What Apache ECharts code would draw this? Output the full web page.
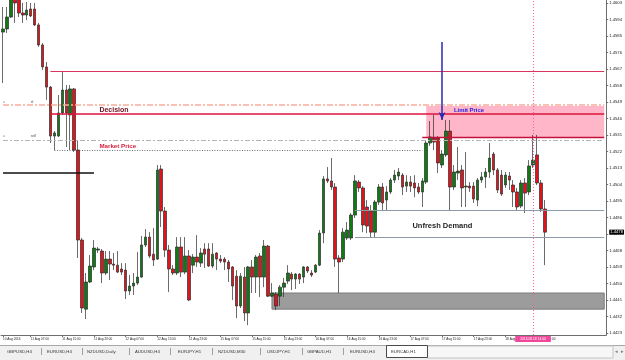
<!DOCTYPE html>
<html>
<head>
<meta charset="utf-8">
<title>EURCAD,H1</title>
<script src="https://cdn.jsdelivr.net/npm/echarts@6/dist/echarts.min.js"></script>
<style>
html, body { margin: 0; padding: 0; background: #fff; }
#chart { width: 625px; height: 360px; }
</style>
</head>
<body>
<div id="chart"></div>
<script>
// EURCAD H1, one value per bar, 11 Aug 00:00 .. 18 Aug 17:00
var openP = [
    1.45871, 1.45888, 1.45953, 1.46057, 1.46062, 1.45975, 1.45964, 1.45997, 1.45997, 1.45910,
    1.45801, 1.45681, 1.45571, 1.45304, 1.45304, 1.45430, 1.45555, 1.45419, 1.45561, 1.45228,
    1.44737, 1.44360, 1.44508, 1.44590, 1.44682, 1.44677, 1.44557, 1.44633, 1.44606, 1.44600,
    1.44579, 1.44573, 1.44459, 1.44486, 1.44502, 1.44535, 1.44710, 1.44753, 1.44660, 1.44633,
    1.45124, 1.44895, 1.44682, 1.44579, 1.44557, 1.44699, 1.44562, 1.44650, 1.44600, 1.44644,
    1.44611, 1.44688, 1.44688, 1.44595, 1.44666, 1.44633, 1.44633, 1.44617, 1.44590, 1.44540,
    1.44377, 1.44535, 1.44339, 1.44590, 1.44535, 1.44650, 1.44535, 1.44704, 1.44431, 1.44442,
    1.44431, 1.44480, 1.44513, 1.44551, 1.44524, 1.44551, 1.44535, 1.44590, 1.44557, 1.44562,
    1.44600, 1.44775, 1.45070, 1.45059, 1.45026, 1.44639, 1.44633, 1.44748, 1.44748, 1.44873,
    1.45053, 1.45021, 1.44917, 1.44895, 1.44780, 1.44944, 1.45026, 1.44955, 1.44999, 1.45064,
    1.45086, 1.45091, 1.45031, 1.45053, 1.45048, 1.45026, 1.44999, 1.45053, 1.45266, 1.45293,
    1.45293, 1.45146, 1.45201, 1.45331, 1.45026, 1.45102, 1.45119, 1.45026, 1.45031, 1.45031,
    1.44955, 1.45064, 1.45081, 1.45108, 1.45206, 1.45119, 1.45091, 1.45037, 1.45086, 1.45037,
    1.44999, 1.44922, 1.45048, 1.44999, 1.45146, 1.45201, 1.45048, 1.44906
];
var closeP = [
    1.45888, 1.45953, 1.46073, 1.46030, 1.45975, 1.45964, 1.45991, 1.45959, 1.45910, 1.45801,
    1.45681, 1.45571, 1.45304, 1.45321, 1.45430, 1.45555, 1.45430, 1.45561, 1.45228, 1.44737,
    1.44366, 1.44508, 1.44595, 1.44693, 1.44688, 1.44557, 1.44633, 1.44606, 1.44600, 1.44562,
    1.44562, 1.44459, 1.44486, 1.44502, 1.44535, 1.44710, 1.44753, 1.44650, 1.44628, 1.45119,
    1.44895, 1.44682, 1.44579, 1.44557, 1.44699, 1.44562, 1.44650, 1.44410, 1.44644, 1.44617,
    1.44666, 1.44660, 1.44595, 1.44660, 1.44633, 1.44622, 1.44617, 1.44579, 1.44486, 1.44377,
    1.44540, 1.44339, 1.44590, 1.44535, 1.44644, 1.44535, 1.44704, 1.44431, 1.44448, 1.44377,
    1.44480, 1.44502, 1.44557, 1.44524, 1.44551, 1.44524, 1.44590, 1.44568, 1.44546, 1.44600,
    1.44775, 1.45070, 1.45059, 1.45026, 1.44633, 1.44617, 1.44780, 1.44791, 1.44873, 1.45059,
    1.45021, 1.44819, 1.44813, 1.44780, 1.44944, 1.45026, 1.44939, 1.44999, 1.45064, 1.45091,
    1.45108, 1.45026, 1.45053, 1.45031, 1.45021, 1.44999, 1.45059, 1.45266, 1.45299, 1.45271,
    1.45157, 1.45206, 1.45331, 1.45026, 1.45108, 1.45113, 1.45021, 1.45031, 1.45021, 1.44961,
    1.45064, 1.45081, 1.45108, 1.45184, 1.45119, 1.45010, 1.44988, 1.45091, 1.45064, 1.44999,
    1.44917, 1.45048, 1.44993, 1.45141, 1.45173, 1.45048, 1.44906, 1.44780
];
var lowP = [
    1.45593, 1.45866, 1.45948, 1.45921, 1.45953, 1.45921, 1.45937, 1.45953, 1.45904, 1.45790,
    1.45664, 1.45501, 1.45266, 1.45228, 1.45299, 1.45419, 1.45244, 1.45228, 1.45217, 1.44639,
    1.44339, 1.44306, 1.44502, 1.44573, 1.44666, 1.44502, 1.44546, 1.44519, 1.44573, 1.44557,
    1.44546, 1.44415, 1.44437, 1.44437, 1.44491, 1.44530, 1.44699, 1.44639, 1.44595, 1.44628,
    1.44808, 1.44644, 1.44453, 1.44546, 1.44546, 1.44535, 1.44551, 1.44404, 1.44557, 1.44590,
    1.44590, 1.44584, 1.44590, 1.44584, 1.44573, 1.44611, 1.44573, 1.44508, 1.44410, 1.44311,
    1.44366, 1.44295, 1.44273, 1.44448, 1.44448, 1.44426, 1.44480, 1.44426, 1.44426, 1.44355,
    1.44377, 1.44426, 1.44497, 1.44464, 1.44470, 1.44497, 1.44502, 1.44557, 1.44535, 1.44557,
    1.44595, 1.44720, 1.45048, 1.45010, 1.44590, 1.44448, 1.44617, 1.44737, 1.44737, 1.44857,
    1.44999, 1.44780, 1.44775, 1.44748, 1.44753, 1.44928, 1.44900, 1.44900, 1.44988, 1.45048,
    1.45064, 1.44982, 1.44999, 1.44999, 1.44971, 1.44988, 1.44917, 1.45042, 1.45250, 1.45228,
    1.45102, 1.45130, 1.45190, 1.44900, 1.45010, 1.45064, 1.44917, 1.44917, 1.44999, 1.44939,
    1.44922, 1.45048, 1.45021, 1.45075, 1.45091, 1.44993, 1.44977, 1.45021, 1.45010, 1.44917,
    1.44900, 1.44911, 1.44884, 1.44982, 1.45130, 1.45037, 1.44890, 1.44600
];
var highP = [
    1.46008, 1.46008, 1.46101, 1.46090, 1.46079, 1.46030, 1.46035, 1.46030, 1.46030, 1.45921,
    1.45811, 1.45708, 1.45577, 1.45331, 1.45528, 1.45653, 1.45582, 1.45582, 1.45566, 1.45282,
    1.44748, 1.44557, 1.44655, 1.44737, 1.44699, 1.44688, 1.44677, 1.44677, 1.44666, 1.44677,
    1.44611, 1.44611, 1.44546, 1.44557, 1.44671, 1.44759, 1.44797, 1.44780, 1.44802, 1.45146,
    1.45146, 1.44917, 1.44710, 1.44600, 1.44753, 1.44753, 1.44753, 1.44682, 1.44660, 1.44764,
    1.44693, 1.44720, 1.44720, 1.44720, 1.44671, 1.44655, 1.44644, 1.44628, 1.44595, 1.44573,
    1.44557, 1.44590, 1.44595, 1.44628, 1.44655, 1.44666, 1.44737, 1.44710, 1.44502, 1.44453,
    1.44491, 1.44530, 1.44600, 1.44562, 1.44557, 1.44557, 1.44595, 1.44595, 1.44573, 1.44606,
    1.44791, 1.45086, 1.45135, 1.45184, 1.45048, 1.44655, 1.44802, 1.44835, 1.44884, 1.45091,
    1.45064, 1.45031, 1.44955, 1.44928, 1.44955, 1.45042, 1.45048, 1.45031, 1.45075, 1.45119,
    1.45130, 1.45102, 1.45091, 1.45086, 1.45091, 1.45048, 1.45075, 1.45282, 1.45386, 1.45419,
    1.45304, 1.45228, 1.45391, 1.45391, 1.45146, 1.45244, 1.45146, 1.45217, 1.45053, 1.45053,
    1.45075, 1.45108, 1.45130, 1.45266, 1.45217, 1.45130, 1.45119, 1.45108, 1.45108, 1.45064,
    1.45021, 1.45064, 1.45075, 1.45173, 1.45310, 1.45310, 1.45064, 1.44955
];

// price scale tick labels on the right
var yTicks = ['1.4423', '1.4432', '1.4441', '1.4450', '1.4459', '1.4468', '1.4477',
    '1.4486', '1.4495', '1.4504', '1.4513', '1.4522', '1.4531', '1.4540', '1.4549',
    '1.4558', '1.4567', '1.4576', '1.4585', '1.4594', '1.4603'];

// time scale: bar index of each label, and its text
var tickIdx = [0, 7, 15, 23, 31, 39, 47, 55, 63, 71, 79, 87, 95, 103, 111, 119, 127, 135];
var tickLabels = ['10 Aug 2016', '11 Aug 07:00', '11 Aug 15:00', '11 Aug 23:00', '12 Aug 07:00',
    '12 Aug 15:00', '12 Aug 23:00', '15 Aug 07:00', '15 Aug 15:00', '15 Aug 23:00', '16 Aug 07:00',
    '16 Aug 15:00', '16 Aug 23:00', '17 Aug 07:00', '17 Aug 15:00', '17 Aug 23:00', '18 Aug 07:00',
    '18 Aug 15:00'];

// drawn levels
var decisionTop = 1.45659;
var pendingLevel = 1.45473;
var decisionLevel = 1.45424;
var limitHigh = 1.45468;
var limitLow = 1.45299;
var sellLevel = 1.45282;
var marketLevel = 1.45228;
var blackLevel = 1.45102;
var unfreshTop = 1.44900;
var unfreshBottom = 1.44753;
var demandTop = 1.44448;
var demandBottom = 1.44360;
var arrowFrom = 1.45817;
var arrowTo = 1.45391;
var lastPrice = 1.4478;
var cursorBar = 134;

var tabs = ['GBPUSD,H4', 'EURUSD,H4', 'NZDUSD,Daily', 'AUDUSD,H4', 'EURJPY,H1',
    'NZDUSD,M30', 'USDJPY,H1', 'GBPAUD,H1', 'EURUSD,H4', 'EURCAD,H1'];
var tabX = [7, 47, 87, 135, 178, 218, 267, 307, 350, 391];
var sepX = [41, 82, 129, 170, 212, 260, 302, 343];

var yMin = 1.44219, yMax = 1.46046;
var barSlots = 153;

var cats = [];
for (var i = 0; i < barSlots; i++) cats.push(String(i));
var candles = openP.map(function (o, k) {
    return [o, closeP[k], lowP[k], highP[k]];
});
var last = barSlots - 1;
var font = 'Liberation Sans';

// a horizontal segment between two bars at one price
function hLine(from, to, price, style, label) {
    var start = { coord: [from, price], lineStyle: style };
    if (label) start.label = label;
    return [start, { coord: [to, price], lineStyle: style }];
}

var graphics = [
    { type: 'rect', shape: { x: 0, y: 345, width: 625, height: 15 }, style: { fill: '#f0f0f0' }, z: 50 },
    { type: 'line', shape: { x1: 0, y1: 345.5, x2: 625, y2: 345.5 }, style: { stroke: '#a8a8a8', lineWidth: 1 }, z: 51 },
    { type: 'rect', shape: { x: 427, y: 346, width: 186, height: 12 }, style: { fill: '#f7f7f7', stroke: '#c4c4c4', lineWidth: 1 }, z: 51 },
    { type: 'rect', shape: { x: 386.5, y: 345.5, width: 41, height: 12 }, style: { fill: '#fff', stroke: '#4a4a4a', lineWidth: 1 }, z: 52 },
    { type: 'text', x: 615, y: 352, style: { text: '\u25C2', fill: '#777', font: '5px ' + font, verticalAlign: 'middle' }, z: 53 },
    { type: 'text', x: 621, y: 352, style: { text: '\u25B8', fill: '#777', font: '5px ' + font, verticalAlign: 'middle' }, z: 53 }
];
tabs.forEach(function (t, k) {
    graphics.push({ type: 'text', x: tabX[k], y: 351.5, z: 53,
        style: { text: t, fill: '#333', font: '4.3px ' + font, verticalAlign: 'middle' } });
});
sepX.forEach(function (x) {
    graphics.push({ type: 'line', z: 53, shape: { x1: x + 0.5, y1: 348, x2: x + 0.5, y2: 355 },
        style: { stroke: '#8a8a8a', lineWidth: 0.8 } });
});

var option = {
    animation: false,
    backgroundColor: '#ffffff',
    textStyle: { fontFamily: font },
    grid: { left: 0, right: 17, top: 0, bottom: 25 },
    xAxis: {
        type: 'category',
        data: cats,
        boundaryGap: true,
        axisLine: { lineStyle: { color: '#6e6e6e', width: 1 } },
        axisTick: {
            show: true, alignWithLabel: true, length: 2,
            interval: function (i) { return tickIdx.indexOf(i) >= 0; },
            lineStyle: { color: '#6e6e6e' }
        },
        axisLabel: {
            interval: function (i) { return tickIdx.indexOf(i) >= 0; },
            formatter: function (v, i) {
                var k = tickIdx.indexOf(i);
                return k >= 0 ? tickLabels[k] : '';
            },
            align: 'left', margin: 3, fontSize: 3.1, color: '#222'
        },
        splitLine: { show: false }
    },
    yAxis: {
        type: 'value',
        position: 'right',
        min: yMin,
        max: yMax,
        splitLine: { show: false },
        axisLine: { show: true, lineStyle: { color: '#6e6e6e', width: 1 } },
        axisTick: { show: true, length: 2, customValues: yTicks.map(Number), lineStyle: { color: '#6e6e6e' } },
        axisLabel: {
            customValues: yTicks.map(Number),
            formatter: function (v) { return v.toFixed(4); },
            fontSize: 4.2, color: '#222', margin: 3
        }
    },
    series: [{
        // zones behind the candles
        type: 'line',
        data: [],
        z: 1,
        silent: true,
        markArea: {
            silent: true,
            data: [
                [{ coord: [107, limitHigh], itemStyle: { color: '#ffb6c8' } }, { coord: [last, limitLow] }],
                [{ coord: [68, demandTop], itemStyle: { color: '#9c9c9c', borderColor: '#7c7c7c', borderWidth: 1 } },
                 { coord: [last, demandBottom] }]
            ]
        }
    }, {
        name: 'EURCAD,H1',
        type: 'candlestick',
        data: candles,
        z: 2,
        barWidth: 3,
        silent: true,
        itemStyle: {
            color: '#0e7a12',
            color0: '#e4131b',
            borderColor: '#2c2c2c',
            borderColor0: '#2c2c2c',
            borderWidth: 0.7
        }
    }, {
        // drawn lines and texts
        type: 'line',
        data: [],
        z: 3,
        silent: true,
        markLine: {
            silent: true,
            symbol: ['none', 'none'],
            label: { show: false },
            lineStyle: { color: '#d8345e', type: 'solid' },
            data: [
                hLine(0, last, pendingLevel, { color: '#f6ad9e', width: 1.5, type: [6, 2, 2, 2] }),
                hLine(12, last, decisionLevel, { color: '#dc143c', width: 1.6, type: 'solid' }),
                hLine(0, last, sellLevel, { color: '#b4b4b4', width: 1, type: [5, 2, 2, 2] }),
                hLine(13, 106, marketLevel, { color: '#444', width: 0.8, type: [1, 1.5] }),
                hLine(106, last, limitLow, { color: '#c4103c', width: 1.4, type: 'solid' }),
                hLine(0, 23, blackLevel, { color: '#111', width: 1.5, type: 'solid' }),
                hLine(89, last, unfreshTop, { color: '#8e9aa6', width: 1, type: 'solid' }),
                hLine(89, last, unfreshBottom, { color: '#8e9aa6', width: 1, type: 'solid' }),
                hLine(12, last, decisionTop, { color: '#d8345e', width: 1.2, type: 'solid' }),
                [{
                    coord: [cursorBar, yMin],
                    lineStyle: { color: '#ff5aa5', width: 1, type: [1, 2] },
                    label: {
                        show: true, position: 'start', distance: 1,
                        formatter: '2016.08.18 14:00',
                        color: '#fff', backgroundColor: '#f0489a',
                        fontSize: 3.3, padding: [1.5, 5]
                    }
                }, { coord: [cursorBar, yMax] }],
                [{ coord: [111, arrowFrom], symbol: 'none', lineStyle: { color: '#2a2ab4', width: 1.5, type: 'solid' } },
                 { coord: [111, arrowTo], symbol: 'arrow', symbolSize: [5, 8] }],
                hLine(0, last, lastPrice, { color: 'rgba(0,0,0,0)', width: 0 }, {
                    show: true, position: 'end', distance: 5,
                    formatter: lastPrice.toFixed(4),
                    color: '#fff', backgroundColor: '#000',
                    fontSize: 4.2, padding: [0.5, 1]
                })
            ]
        },
        markPoint: {
            silent: true,
            symbol: 'circle',
            symbolSize: 0,
            label: {
                show: true, position: 'inside', align: 'left', verticalAlign: 'middle',
                formatter: function (p) { return p.name; }
            },
            data: [
                { name: 'Decision', coord: [24, 1.45446], label: { color: '#6e1020', fontSize: 7, fontWeight: 'bold', offset: [1.5, 0] } },
                { name: 'Market Price', coord: [24, 1.45250], label: { color: '#d81e3c', fontSize: 6.2, fontWeight: 'bold', offset: [1.5, 0] } },
                { name: 'Limit Price', coord: [114, 1.45446], label: { color: '#1f1fe0', fontSize: 5.9, fontWeight: 'bold' } },
                { name: 'Unfresh Demand', coord: [103, 1.44813], label: { color: '#1e1e1e', fontSize: 7.5, fontWeight: 'bold', offset: [2, 0] } },
                { name: 'sl', coord: [7, 1.45490], label: { color: '#555', fontSize: 3.6 } },
                { name: 'sell', coord: [7, 1.45305], label: { color: '#555', fontSize: 3.6 } },
                { name: 'a', coord: [0, 1.45490], label: { color: '#777', fontSize: 3 } },
                { name: 'a', coord: [0, 1.45305], label: { color: '#777', fontSize: 3 } }
            ]
        }
    }],
    graphic: graphics
};

var chart = echarts.init(document.getElementById('chart'), null, { renderer: 'canvas' });
chart.setOption(option);
</script>
</body>
</html>
